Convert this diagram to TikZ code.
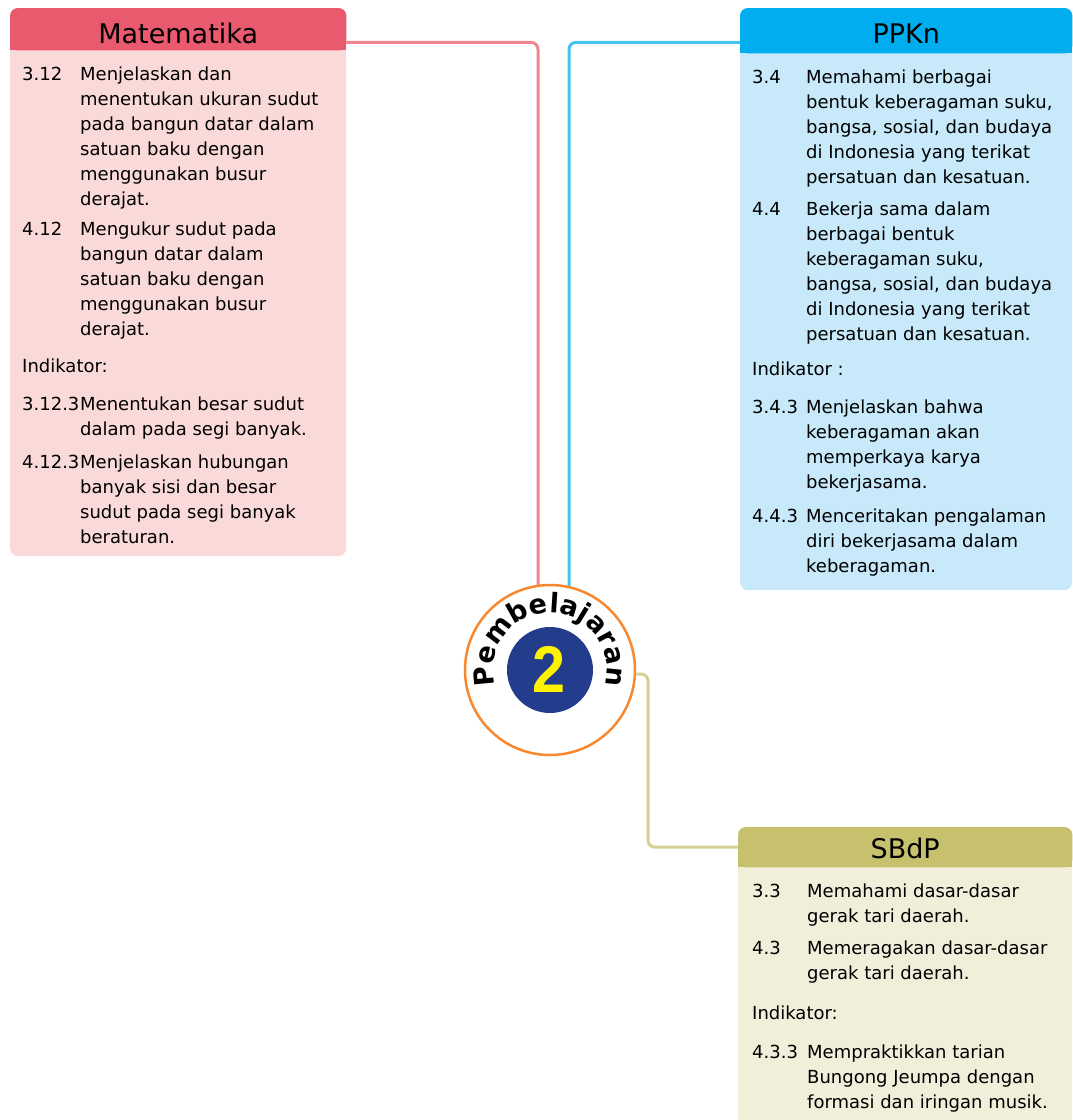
\documentclass[tikz,border=0pt]{standalone}
\usepackage{fontspec}
\setmainfont{DejaVu Sans}
\newfontfamily\twofnt{Liberation Sans}
\usetikzlibrary{calc,backgrounds,decorations.text}
\definecolor{mhd}{HTML}{E95A6F}
\definecolor{mbody}{HTML}{FADAD8}
\definecolor{mline}{HTML}{EF8593}
\definecolor{phd}{HTML}{00AEEF}
\definecolor{pbody}{HTML}{C7E9F9}
\definecolor{pline}{HTML}{45C4F2}
\definecolor{shd}{HTML}{C7C16D}
\definecolor{sbody}{HTML}{F1EEDA}
\definecolor{sline}{HTML}{D5D092}
\definecolor{orng}{HTML}{F7882F}
\definecolor{navy}{HTML}{233D8C}
\definecolor{yel}{HTML}{FFF200}
\newcommand\bodyfnt{\fontsize{18pt}{25pt}\selectfont}
\newcommand\titlefnt{\fontsize{27pt}{30pt}\selectfont}
\newcommand\pembfnt{\fontsize{27pt}{27pt}\selectfont\bfseries}
\begin{document}
\begin{tikzpicture}[x=1pt,y=-1pt,
  boxbody/.style={rectangle, rounded corners=8pt, inner sep=0pt, anchor=north west},
  hdr/.style={rectangle, inner sep=0pt, anchor=north west},
  ttl/.style={anchor=base, inner sep=0pt, font=\titlefnt},
  txt/.style={anchor=north west, inner sep=0pt, font=\bodyfnt},
  conn/.style={line width=3pt, rounded corners=7pt}]

\useasboundingbox (0,0) rectangle (1073,1120);

% ---------- Matematika ----------
\node[boxbody, fill=mbody, minimum width=336pt, minimum height=548pt] (mbox) at (10,8) {};
\node[hdr, minimum width=336pt, minimum height=42pt] (mhead) at (10,8) {};
\fill[mhd, rounded corners=8pt] (mhead.south west) rectangle (mhead.north east);
\fill[mhd] ([yshift=10pt]mhead.south west) rectangle (mhead.south east);
\node[ttl] (mtitle) at ($(mhead.north)+(0,35)$) {Matematika};
\node[txt] (mtext) at (22,62.5) {\begin{tabular}{@{}p{58pt}@{}l@{}}
3.12 & Menjelaskan dan\\
 & menentukan ukuran sudut\\
 & pada bangun datar dalam\\
 & satuan baku dengan\\
 & menggunakan busur\\
 & derajat.\\[5pt]
4.12 & Mengukur sudut pada\\
 & bangun datar dalam\\
 & satuan baku dengan\\
 & menggunakan busur\\
 & derajat.\\[12pt]
\multicolumn{2}{@{}l@{}}{Indikator:}\\[13pt]
3.12.3 & Menentukan besar sudut\\
 & dalam pada segi banyak.\\[8pt]
4.12.3 & Menjelaskan hubungan\\
 & banyak sisi dan besar\\
 & sudut pada segi banyak\\
 & beraturan.
\end{tabular}};

% ---------- PPKn ----------
\node[boxbody, fill=pbody, minimum width=332pt, minimum height=582pt] (pbox) at (740,8) {};
\node[hdr, minimum width=332pt, minimum height=45pt] (phead) at (740,8) {};
\fill[phd, rounded corners=8pt] (phead.south west) rectangle (phead.north east);
\fill[phd] ([yshift=10pt]phead.south west) rectangle (phead.south east);
\node[ttl] (ptitle) at ($(phead.north)+(0,35)$) {PPKn};
\node[txt] (ptext) at (752,65.5) {\begin{tabular}{@{}p{54pt}@{}l@{}}
3.4 & Memahami berbagai\\
 & bentuk keberagaman suku,\\
 & bangsa, sosial, dan budaya\\
 & di Indonesia yang terikat\\
 & persatuan dan kesatuan.\\[7pt]
4.4 & Bekerja sama dalam\\
 & berbagai bentuk\\
 & keberagaman suku,\\
 & bangsa, sosial, dan budaya\\
 & di Indonesia yang terikat\\
 & persatuan dan kesatuan.\\[10pt]
\multicolumn{2}{@{}l@{}}{Indikator :}\\[13pt]
3.4.3 & Menjelaskan bahwa\\
 & keberagaman akan\\
 & memperkaya karya\\
 & bekerjasama.\\[9pt]
4.4.3 & Menceritakan pengalaman\\
 & diri bekerjasama dalam\\
 & keberagaman.
\end{tabular}};

% ---------- SBdP ----------
\node[boxbody, fill=sbody, minimum width=334pt, minimum height=300pt] (sbox) at (738,827) {};
\node[hdr, minimum width=334pt, minimum height=40pt] (shead) at (738,827) {};
\fill[shd, rounded corners=8pt] (shead.south west) rectangle (shead.north east);
\fill[shd] ([yshift=10pt]shead.south west) rectangle (shead.south east);
\node[ttl] (stitle) at ($(shead.north)+(0,31)$) {SBdP};
\node[txt] (stext) at (752,879.5) {\begin{tabular}{@{}p{55pt}@{}l@{}}
3.3 & Memahami dasar-dasar\\
 & gerak tari daerah.\\[7pt]
4.3 & Memeragakan dasar-dasar\\
 & gerak tari daerah.\\[15pt]
\multicolumn{2}{@{}l@{}}{Indikator:}\\[14pt]
4.3.3 & Mempraktikkan tarian\\
 & Bungong Jeumpa dengan\\
 & formasi dan iringan musik.
\end{tabular}};

% ---------- centre ----------
\node[circle, draw=orng, line width=2.5pt, fill=white, minimum size=170pt, inner sep=0pt] (circ) at (550,670) {};
\node[circle, fill=navy, minimum size=86pt, inner sep=0pt] (inner) at (circ.center) {};
\node[anchor=base, inner sep=0pt, text=yel, font={\twofnt\fontsize{66pt}{66pt}\selectfont\bfseries}, xscale=0.9] (two) at ($(inner.center)+(-1,22)$) {2};
\path[decorate, decoration={text along path, text align=center, text={|\pembfnt|Pembelajaran}}]
  ([shift={(215:57pt)}]circ.center) arc[start angle=215, end angle=-35, radius=57pt];

% ---------- connectors ----------
\begin{scope}[on background layer]
\draw[conn, mline] ([yshift=8pt]mhead.south east) -| ([xshift=-12pt]circ.center);
\draw[conn, pline] ([yshift=11pt]phead.south west) -| ([xshift=19pt]circ.center);
\draw[conn, sline] ([yshift=-4pt]circ.east) -| ([xshift=-90pt]shead.west) -- (shead.west);
\end{scope}
\end{tikzpicture}
\end{document}
